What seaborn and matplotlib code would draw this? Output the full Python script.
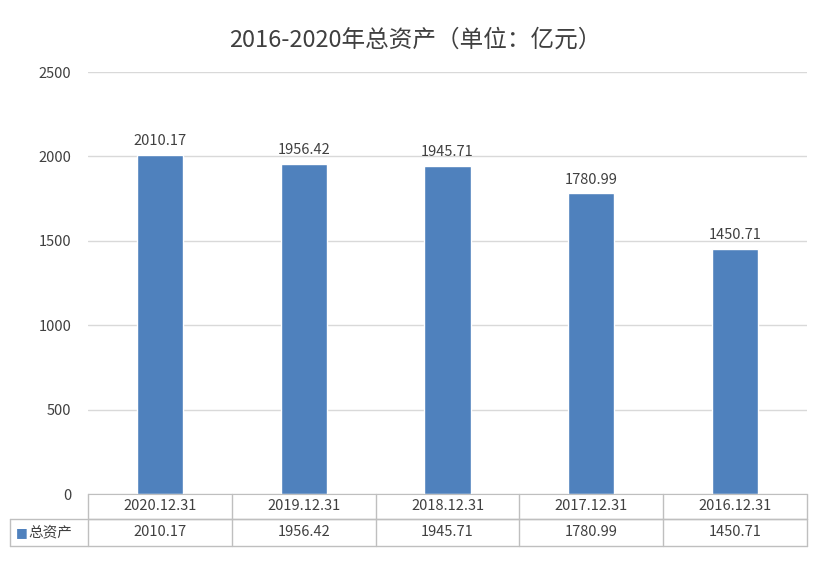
import matplotlib
matplotlib.use("Agg")
import matplotlib.pyplot as plt
import seaborn as sns
from matplotlib.lines import Line2D

dates = ["2020.12.31", "2019.12.31", "2018.12.31", "2017.12.31", "2016.12.31"]
values = [2010.17, 1956.42, 1945.71, 1780.99, 1450.71]
series_name = "总资产"
color = "#4F81BD"

sns.set_style("white")
plt.rcParams['font.family'] = ['Noto Sans CJK SC', 'DejaVu Sans']

fig = plt.figure(figsize=(8.31, 5.74), dpi=100)
L, R = 88 / 831, 807 / 831
B, T = (574 - 494) / 574, (574 - 72) / 574
ax = fig.add_axes([L, B, R - L, T - B])

sns.barplot(x=dates, y=values, color=color, width=0.32, saturation=1, ax=ax)
ax.set_ylim(0, 2500)
ax.set_yticks(range(0, 2501, 500))
ax.yaxis.grid(True, color="#D9D9D9", linewidth=1)
ax.set_axisbelow(True)
for s in ["top", "right", "left"]:
    ax.spines[s].set_visible(False)
ax.spines["bottom"].set_color("#BFBFBF")
ax.tick_params(axis="y", length=0, labelsize=10.5, colors="#404040", pad=12)
ax.set_xticks([])
ax.set_xlabel("")
for i, v in enumerate(values):
    ax.text(i, v + 40, f"{v:.2f}", ha="center", va="bottom", fontsize=10.5, color="#404040")

fig.text(0.5, 1 - 40 / 574, "2016-2020年总资产（单位：亿元）", ha="center", va="center",
         fontsize=17, color="#404040")

# data table below the axes
lc = "#BFBFBF"
y0, y1, y2 = B, (574 - 519) / 574, (574 - 546) / 574
xl = 10 / 831
cw = (R - L) / len(dates)
fig.add_artist(Line2D([L, R], [y1, y1], color=lc, lw=1))
fig.add_artist(Line2D([xl, R], [y1, y1], color=lc, lw=1))
fig.add_artist(Line2D([xl, R], [y2, y2], color=lc, lw=1))
fig.add_artist(Line2D([xl, xl], [y2, y1], color=lc, lw=1))
for k in range(len(dates) + 1):
    x = L + k * cw
    fig.add_artist(Line2D([x, x], [y2, y0], color=lc, lw=1))
for k, (d, v) in enumerate(zip(dates, values)):
    xc = L + (k + 0.5) * cw
    fig.text(xc, (y0 + y1) / 2, d, ha="center", va="center", fontsize=10.5, color="#404040")
    fig.text(xc, (y1 + y2) / 2, f"{v:.2f}", ha="center", va="center", fontsize=10.5, color="#404040")
fig.text(xl + 6 / 831, (y1 + y2) / 2, "■", ha="left", va="center", fontsize=9, color=color,
         family=['DejaVu Sans'])
fig.text(xl + 18 / 831, (y1 + y2) / 2, series_name, ha="left", va="center", fontsize=10.5, color="#404040")

fig.savefig("out.png", dpi=100)
